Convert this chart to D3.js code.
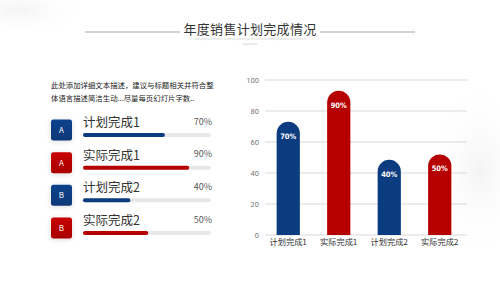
<!DOCTYPE html>
<html>
<head>
<meta charset="utf-8">
<script src="https://cdn.jsdelivr.net/npm/d3@7"></script>
<style>
  html, body { margin: 0; padding: 0; background: #fff; }
  svg { display: block; font-family: "Noto Sans CJK SC", "Noto Sans", sans-serif; }
</style>
</head>
<body>
<div id="graphic"></div>
<script>
// data
var categories = ["计划完成1", "实际完成1", "计划完成2", "实际完成2"];
var percentLabels = [70, 90, 40, 50];
var barValues = [73, 93, 48.5, 52];       // column heights as drawn
var progressValues = [64, 83, 37, 51];    // progress fills as drawn
var badges = ["A", "A", "B", "B"];
var yTicks = [0, 20, 40, 60, 80, 100];

var blue = "#0c3c80", red = "#b60000";
var colors = [blue, red, blue, red];

var width = 500, height = 281;
var svg = d3.select("#graphic").append("svg").attr("width", width).attr("height", height);
var defs = svg.append("defs");

// soft background swooshes
var bg = defs.append("radialGradient").attr("id", "haze");
bg.append("stop").attr("offset", "0%").attr("stop-color", "#efefef").attr("stop-opacity", 0.7);
bg.append("stop").attr("offset", "100%").attr("stop-color", "#ffffff").attr("stop-opacity", 0);
svg.append("ellipse").attr("cx", 20).attr("cy", 10).attr("rx", 70).attr("ry", 25).attr("fill", "url(#haze)");
svg.append("ellipse").attr("cx", 480).attr("cy", 170).attr("rx", 50).attr("ry", 90).attr("fill", "url(#haze)");

var shadow = defs.append("filter").attr("id", "shadow").attr("x", "-50%").attr("y", "-50%").attr("width", "200%").attr("height", "200%");
shadow.append("feDropShadow").attr("dx", 0).attr("dy", 1).attr("stdDeviation", 2.5).attr("flood-color", "#000").attr("flood-opacity", 0.15);

// title
svg.append("text").attr("x", 250).attr("y", 34).attr("text-anchor", "middle")
  .attr("font-size", 13).attr("letter-spacing", 0.3).attr("fill", "#333").text("年度销售计划完成情况");
svg.append("line").attr("x1", 85).attr("x2", 180).attr("y1", 32).attr("y2", 32).attr("stroke", "#d4d4d4").attr("stroke-width", 2);
svg.append("line").attr("x1", 320).attr("x2", 415).attr("y1", 32).attr("y2", 32).attr("stroke", "#d4d4d4").attr("stroke-width", 2);
svg.append("text").attr("x", 250).attr("y", 40).attr("text-anchor", "middle").attr("font-size", 2.2).attr("fill", "#ccc")
  .text("Lorem ipsum dolor sit amet, consectetur adipiscing elit, sed do eiusmod tempor incididunt ut labore et dolore");
svg.append("text").attr("x", 250).attr("y", 44.5).attr("text-anchor", "middle").attr("font-size", 2.2).attr("fill", "#ccc")
  .text("magna aliqua");

// description
svg.append("text").attr("x", 51).attr("y", 88).attr("font-size", 7.4).attr("fill", "#222")
  .text("此处添加详细文本描述，建议与标题相关并符合整");
svg.append("text").attr("x", 51).attr("y", 101).attr("font-size", 7.4).attr("fill", "#222")
  .text("体语言描述简洁生动...尽量每页幻灯片字数..");

// progress list
var rowY = d3.scaleLinear().domain([0, 3]).range([130, 228]);
var prog = d3.scaleLinear().domain([0, 100]).range([0, 128]);
var rows = svg.append("g").selectAll("g").data(categories).join("g")
  .attr("transform", function(d, i) { return "translate(0," + rowY(i) + ")"; });

var grad = defs.selectAll("linearGradient.badge").data(colors).join("linearGradient")
  .attr("class", "badge").attr("id", function(d, i) { return "badge" + i; })
  .attr("x1", 0).attr("y1", 0).attr("x2", 0).attr("y2", 1);
grad.append("stop").attr("offset", "0%").attr("stop-color", function(d) { return d3.color(d).brighter(0.25); });
grad.append("stop").attr("offset", "100%").attr("stop-color", function(d) { return d3.color(d).darker(0.2); });

rows.append("rect").attr("x", 51).attr("y", -10.5).attr("width", 21).attr("height", 21).attr("rx", 2.5)
  .attr("fill", function(d, i) { return "url(#badge" + i + ")"; }).attr("filter", "url(#shadow)");
rows.append("text").attr("x", 61.5).attr("y", 3).attr("text-anchor", "middle").attr("font-size", 8)
  .attr("fill", "#fff").text(function(d, i) { return badges[i]; });
rows.append("text").attr("x", 83).attr("y", -3).attr("font-size", 12.5).attr("fill", "#333").text(function(d) { return d; });
rows.append("text").attr("x", 212).attr("y", -5.5).attr("text-anchor", "end").attr("font-size", 9)
  .attr("fill", "#555").text(function(d, i) { return percentLabels[i] + "%"; });
rows.append("rect").attr("x", 83).attr("y", 3).attr("width", prog(100)).attr("height", 4).attr("rx", 2).attr("fill", "#e8e8e8");
rows.append("rect").attr("x", 83).attr("y", 3).attr("width", function(d, i) { return prog(progressValues[i]); })
  .attr("height", 4).attr("rx", 2).attr("fill", function(d, i) { return colors[i]; });

// column chart
var x = d3.scaleBand().domain(categories).range([263, 465]).paddingInner(0.54).paddingOuter(0.27);
var y = d3.scaleLinear().domain([0, 100]).range([235, 80]);

var grid = svg.append("g");
grid.selectAll("line").data(yTicks).join("line")
  .attr("x1", 265).attr("x2", 467).attr("y1", function(d) { return y(d); }).attr("y2", function(d) { return y(d); })
  .attr("stroke", "#d9d9d9").attr("stroke-width", 1);

var yAxis = svg.append("g").attr("transform", "translate(259,0)")
  .call(d3.axisLeft(y).tickValues(yTicks).tickSize(0).tickPadding(0));
yAxis.select(".domain").remove();
yAxis.selectAll("text").attr("font-size", 7.5).attr("fill", "#777").attr("font-family", "Roboto, sans-serif");

var xAxis = svg.append("g").attr("transform", "translate(0,235)")
  .call(d3.axisBottom(x).tickSize(0).tickPadding(4));
xAxis.select(".domain").remove();
xAxis.selectAll("text").attr("font-size", 8.2).attr("fill", "#333").attr("font-family", "\"Noto Sans CJK SC\", sans-serif");

var bw = x.bandwidth(), r = bw / 2;
svg.append("g").selectAll("path").data(categories).join("path")
  .attr("fill", function(d, i) { return colors[i]; })
  .attr("d", function(d, i) {
    var x0 = x(d), top = y(barValues[i]), base = y(0);
    return "M" + x0 + "," + base + "V" + (top + r) + "A" + r + "," + r + " 0 0 1 " + (x0 + bw) + "," + (top + r) + "V" + base + "Z";
  });

svg.append("g").selectAll("text").data(categories).join("text")
  .attr("x", function(d) { return x(d) + r; })
  .attr("y", function(d, i) { return y(barValues[i]) + 17; })
  .attr("text-anchor", "middle").attr("font-size", 7.5).attr("font-weight", "bold")
  .attr("font-family", "\"Liberation Sans Narrow\", \"DejaVu Sans Condensed\", sans-serif")
  .attr("fill", "#fff").text(function(d, i) { return percentLabels[i] + "%"; });
</script>
</body>
</html>
